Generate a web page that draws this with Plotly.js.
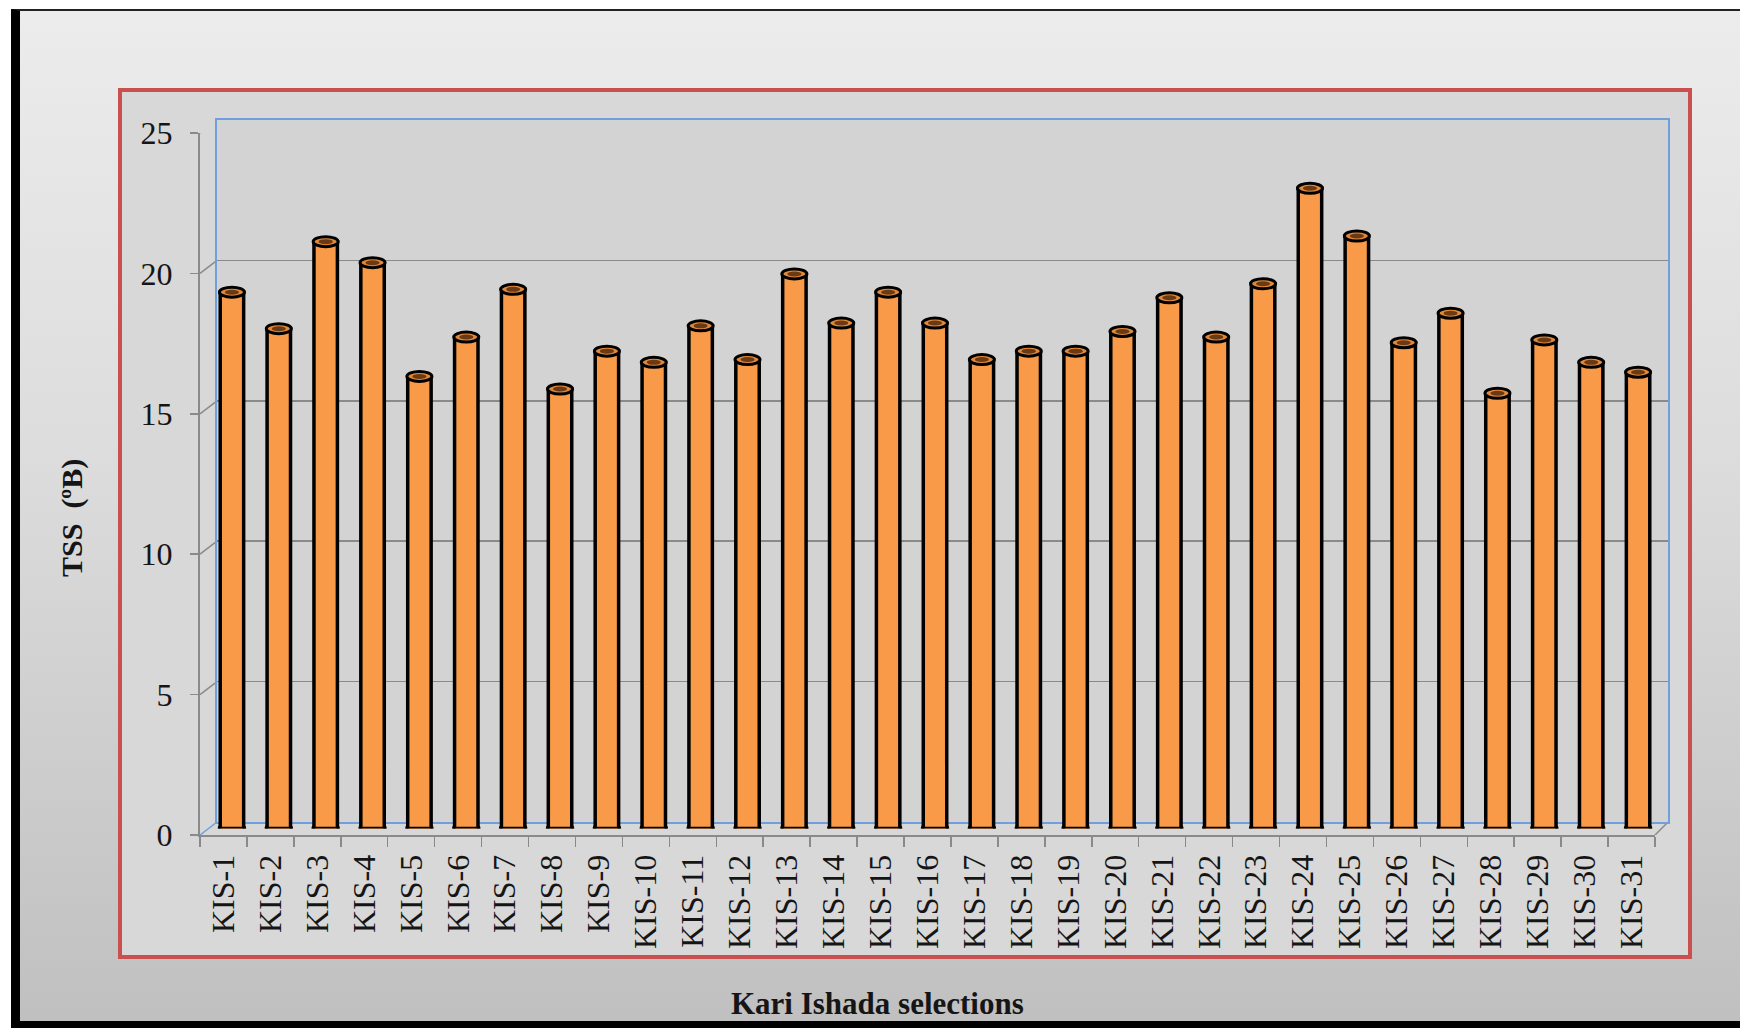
<!DOCTYPE html>
<html>
<head>
<meta charset="utf-8">
<script src="https://cdn.plot.ly/plotly-3.0.1.min.js"></script>
<style>
  html, body { margin: 0; padding: 0; background: #ffffff; }
  #frame {
    position: absolute; left: 11px; top: 9px; width: 1729px; height: 1019px;
    box-sizing: border-box;
    border-left: 9px solid #000; border-top: 2px solid #222; border-bottom: 7px solid #000;
    background: linear-gradient(to bottom, #ececec 0%, #dcdcdc 45%, #c0c0c0 100%);
  }
  #chart { position: absolute; left: 0; top: 0; width: 1740px; height: 1028px; }
</style>
</head>
<body>
<div id="frame"></div>
<div id="chart"></div>
<script>
// ---- data ----
const categories = ["KIS-1","KIS-2","KIS-3","KIS-4","KIS-5","KIS-6","KIS-7","KIS-8","KIS-9","KIS-10",
  "KIS-11","KIS-12","KIS-13","KIS-14","KIS-15","KIS-16","KIS-17","KIS-18","KIS-19","KIS-20",
  "KIS-21","KIS-22","KIS-23","KIS-24","KIS-25","KIS-26","KIS-27","KIS-28","KIS-29","KIS-30","KIS-31"];
const tssValues = [19.1, 17.8, 20.9, 20.15, 16.1, 17.5, 19.2, 15.65, 17.0, 16.6,
  17.9, 16.7, 19.75, 18.0, 19.1, 18.0, 16.7, 17.0, 17.0, 17.7,
  18.9, 17.5, 19.4, 22.8, 21.1, 17.3, 18.35, 15.5, 17.4, 16.6, 16.25];
const yTickValues = [0, 5, 10, 15, 20, 25];
const xTitle = "Kari Ishada selections";
const yTitle = "TSS\u00a0\u00a0(\u00baB)";

// ---- geometry helpers (layout only) ----
const FIG_W = 1740, FIG_H = 1028;
const M = { l: 200, r: 68, t: 120, b: 193 };
const PW = FIG_W - M.l - M.r, PH = FIG_H - M.t - M.b;
const px = x => (x - M.l) / PW;
const py = y => 1 - (y - M.t) / PH;

const FONT = "'Liberation Serif', 'Times New Roman', serif";
const GRID = "#8a8a8a";
const WALL_BLUE = "#6f9fdc";
const ORANGE = "#f89a48";
const nCat = categories.length;
const catRange = [-0.5, nCat - 0.5];

// back wall: x 217..1668, y 120..822 ; bars: mid depth ; front: x 200..1655, y 133..835
const backX = [px(217), px(1668)], backY = [py(822), py(120)];
const midX = [px(208.5), px(1661.5)], midY = [py(828.5), py(126.5)];
const frontX = [px(200), px(1655)], frontY = [py(835), py(133)];

const traces = [
  { // back wall axes holder (invisible)
    type: "bar", x: categories, y: tssValues, xaxis: "x", yaxis: "y",
    marker: { color: "rgba(0,0,0,0)" }, hoverinfo: "skip", showlegend: false
  },
  { // the columns
    type: "bar", x: categories, y: tssValues, xaxis: "x2", yaxis: "y2",
    width: 0.5,
    marker: { color: ORANGE, line: { color: "#000000", width: 3.5 } },
    hovertemplate: "%{x}: %{y}<extra></extra>", showlegend: false
  },
  { // front axes holder (invisible)
    type: "bar", x: categories, y: tssValues, xaxis: "x3", yaxis: "y3",
    marker: { color: "rgba(0,0,0,0)" }, hoverinfo: "skip", showlegend: false
  }
];

const shapes = [];
// red chart-area border with fill
shapes.push({ type: "rect", xref: "paper", yref: "paper", layer: "below",
  x0: px(120), x1: px(1690), y0: py(957), y1: py(90),
  fillcolor: "#d8d8d8", line: { color: "#c9504e", width: 4 } });
// back wall fill
shapes.push({ type: "rect", xref: "paper", yref: "paper", layer: "below",
  x0: backX[0], x1: backX[1], y0: backY[0], y1: backY[1],
  fillcolor: "#d3d3d3", line: { width: 0 } });
// diagonal stubs from front y ticks to back wall grid
yTickValues.forEach(v => {
  shapes.push({ type: "line", xref: "paper", yref: "y3", layer: "below",
    xsizemode: "pixel", xanchor: frontX[0], x0: 0, x1: 17,
    ysizemode: "pixel", yanchor: v, y0: 0, y1: 13,
    line: { color: v === 0 ? WALL_BLUE : GRID, width: 1.5 } });
});
// right floor diagonal
shapes.push({ type: "line", xref: "paper", yref: "y3", layer: "below",
  xsizemode: "pixel", xanchor: frontX[1], x0: 0, x1: 13,
  ysizemode: "pixel", yanchor: 0, y0: 0, y1: 13,
  line: { color: GRID, width: 1.5 } });

// cylinder ends from the data
tssValues.forEach((v, i) => {
  // rounded bottom
  shapes.push({ type: "circle", xref: "x2", yref: "y2", layer: "below",
    x0: i - 0.267, x1: i + 0.267, ysizemode: "pixel", yanchor: 0, y0: -5, y1: 5,
    fillcolor: ORANGE, line: { color: "#000", width: 3.5 } });
  // top cap
  shapes.push({ type: "circle", xref: "x2", yref: "y2", layer: "above",
    x0: i - 0.267, x1: i + 0.267, ysizemode: "pixel", yanchor: v, y0: -5, y1: 5,
    fillcolor: "#e0883c", line: { color: "#000", width: 3 } });
  shapes.push({ type: "circle", xref: "x2", yref: "y2", layer: "above",
    x0: i - 0.15, x1: i + 0.15, ysizemode: "pixel", yanchor: v, y0: -2.5, y1: 2.5,
    fillcolor: "#6b3a12", line: { width: 0 } });
});

const hidden = { visible: false, fixedrange: true };

const layout = {
  width: FIG_W, height: FIG_H,
  margin: M,
  paper_bgcolor: "rgba(0,0,0,0)",
  plot_bgcolor: "rgba(0,0,0,0)",
  showlegend: false,
  bargap: 0.5,
  font: { family: FONT, color: "#1a1a1a", size: 30 },
  // back wall
  xaxis: { domain: backX, range: catRange, anchor: "y", type: "category",
    showgrid: false, showticklabels: false, ticks: "", zeroline: false,
    showline: true, linecolor: WALL_BLUE, linewidth: 2, mirror: true },
  yaxis: { domain: backY, range: [0, 25], anchor: "x", tickvals: yTickValues,
    showgrid: true, gridcolor: GRID, gridwidth: 1.5, zeroline: false,
    showticklabels: false, ticks: "",
    showline: true, linecolor: WALL_BLUE, linewidth: 2, mirror: true },
  // columns
  xaxis2: Object.assign({ domain: midX, range: catRange, anchor: "y2", type: "category" }, hidden),
  yaxis2: Object.assign({ domain: midY, range: [0, 25], anchor: "x2" }, hidden),
  // front axes with labels
  xaxis3: { domain: frontX, range: catRange, anchor: "y3", type: "category",
    tickson: "boundaries", ticks: "outside", ticklen: 10, tickcolor: GRID, tickwidth: 1.5,
    showline: true, linecolor: GRID, linewidth: 2, showgrid: false, zeroline: false,
    tickangle: -90, ticklabelstandoff: 5,
    tickfont: { family: FONT, size: 32, color: "#151515" } },
  yaxis3: { domain: frontY, range: [0, 25], anchor: "x3", tickvals: yTickValues,
    ticktext: yTickValues.map(String),
    ticks: "outside", ticklen: 8, tickcolor: GRID, tickwidth: 1.5,
    showline: true, linecolor: GRID, linewidth: 2, showgrid: false, zeroline: false,
    ticklabelstandoff: 11,
    tickfont: { family: FONT, size: 32, color: "#151515" } },
  shapes: shapes,
  annotations: [
    { text: "<b>" + xTitle + "</b>", xref: "paper", yref: "paper",
      x: px(877), y: py(1003), showarrow: false, xanchor: "center", yanchor: "middle",
      font: { family: FONT, size: 31, color: "#151515" } },
    { text: "<b>" + yTitle + "</b>", xref: "paper", yref: "paper",
      x: px(72), y: py(518), showarrow: false, textangle: -90,
      xanchor: "center", yanchor: "middle",
      font: { family: FONT, size: 30, color: "#151515" } }
  ]
};

Plotly.newPlot("chart", traces, layout, { displayModeBar: false, staticPlot: true });
</script>
</body>
</html>
